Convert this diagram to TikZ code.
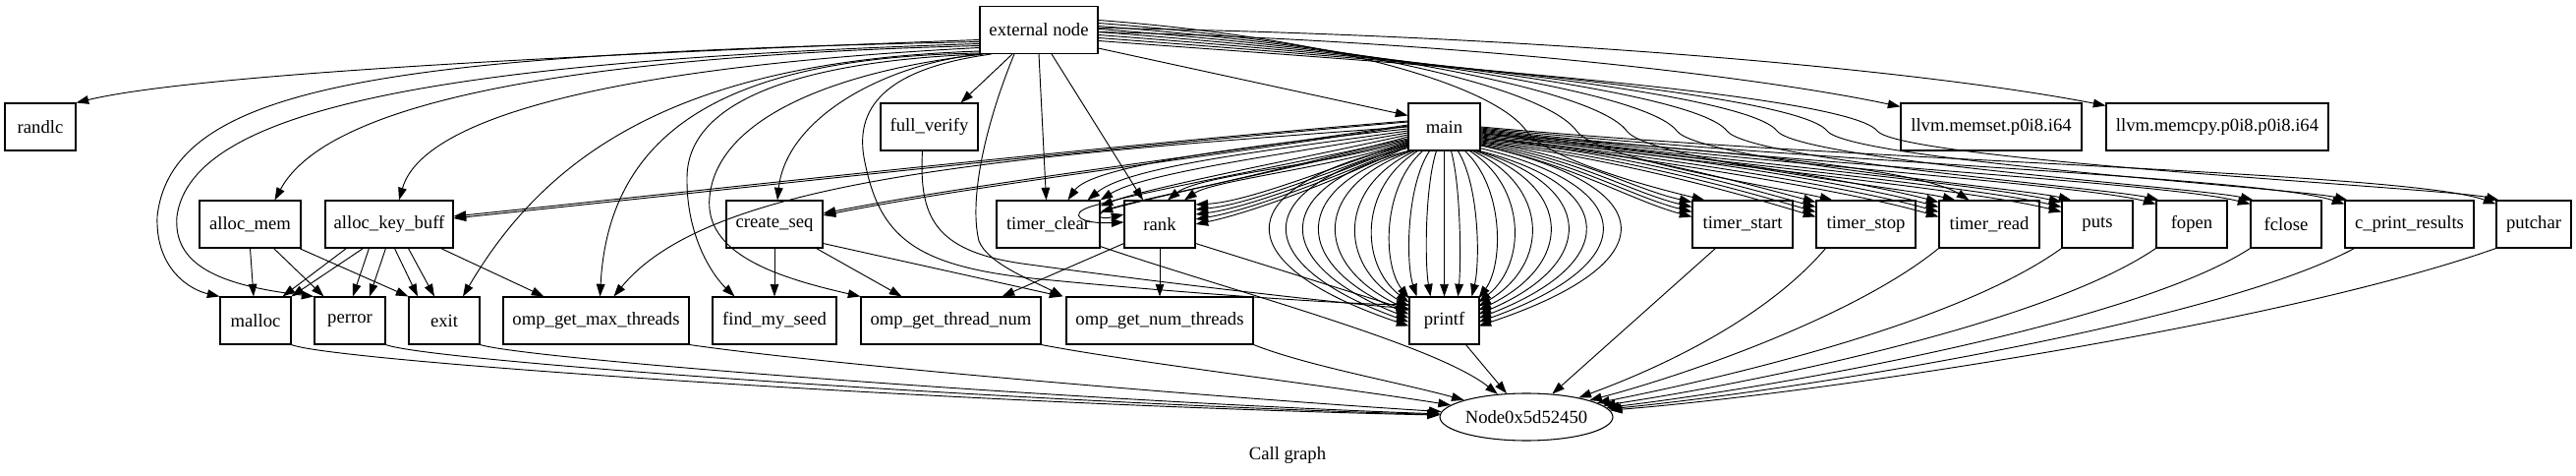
\documentclass[tikz,border=0pt]{standalone}
\usepackage{fontspec}
\setmainfont{Liberation Serif}
\usetikzlibrary{arrows.meta,calc,shapes.geometric}
\begin{document}
\begin{tikzpicture}[x=0.75pt,y=-0.75pt,
  box/.style={draw,line width=0.8pt,minimum height=36pt,inner sep=0pt,font=\fontsize{14}{16}\selectfont},
  bw/.style={minimum width=#1*0.75pt},
  edg/.style={line width=0.7pt,-{Triangle[length=9.5pt,width=6.5pt]}},
]
\useasboundingbox (0,0) rectangle (2621,484);
% nodes
\node[box,bw=120] (ext) at (1057,30.5) {external node};
\node[box,bw=72] (randlc) at (41,129) {randlc};
\node[box,bw=99] (fv) at (945.5,129) {full\_verify};
\node[box,bw=73] (main) at (1469.5,129) {main};
\node[box,bw=184] (memset) at (2026,129) {llvm.memset.p0i8.i64};
\node[box,bw=226] (memcpy) at (2256,129) {llvm.memcpy.p0i8.p0i8.i64};
\node[box,bw=103] (amem) at (254.5,228) {alloc\_mem};
\node[box,bw=130] (akb) at (396,228) {alloc\_key\_buff};
\node[box,bw=98] (cs) at (788,228) {create\_seq};
\node[box,bw=105] (tc) at (1066.5,228) {timer\_clear};
\node[box,bw=72] (rank) at (1180,228) {rank};
\node[box,bw=102] (ts) at (1773,228) {timer\_start};
\node[box,bw=101] (tstop) at (1898.5,228) {timer\_stop};
\node[box,bw=102] (tr) at (2024,228) {timer\_read};
\node[box,bw=72] (puts) at (2134,228) {puts};
\node[box,bw=72] (fopen) at (2230,228) {fopen};
\node[box,bw=72] (fclose) at (2326,228) {fclose};
\node[box,bw=131] (cpr) at (2451.5,228) {c\_print\_results};
\node[box,bw=76] (putchar) at (2578,228) {putchar};
\node[box,bw=72] (malloc) at (260,326) {malloc};
\node[box,bw=72] (perror) at (356,326) {perror};
\node[box,bw=72] (exit) at (452,326) {exit};
\node[box,bw=189] (ogmt) at (606.5,326) {omp\_get\_max\_threads};
\node[box,bw=126] (fms) at (788,326) {find\_my\_seed};
\node[box,bw=183] (ogtn) at (967.5,326) {omp\_get\_thread\_num};
\node[box,bw=190] (ognt) at (1180,326) {omp\_get\_num\_threads};
\node[box,bw=71] (printf) at (1469.5,326) {printf};
\node[draw,ellipse,line width=0.8pt,minimum width=126pt,minimum height=36pt,inner sep=0pt,font=\fontsize{14}{16}\selectfont] (nd) at (1553,424) {Node0x5d52450};
\node[font=\fontsize{14}{16}\selectfont] (cap) at (1310,463) {Call graph};

% external node -> left part
\draw[edg] ($(ext.west)+(0,10)$) .. controls (600,55) and (200,75) .. (randlc.north east);
\draw[edg] ($(ext.west)+(0,12)$) .. controls (400,55) and (175,85) .. (160,220) .. controls (158,275) and (195,295) .. (malloc.north west);
\draw[edg] ($(ext.west)+(0,14)$) .. controls (450,62) and (195,110) .. (180,220) .. controls (176,268) and (220,290) .. (perror.north west);
\draw[edg] ($(ext.west)+(0,16)$) .. controls (550,58) and (330,110) .. ($(amem.north)+(25,0)$);
\draw[edg] ($(ext.west)+(0,18)$) .. controls (620,68) and (430,120) .. ($(akb.north)+(10,0)$);
\draw[edg] ($(ext.south west)+(0,-3)$) .. controls (700,62) and (560,150) .. ($(exit.north)+(19,0)$);
\draw[edg] ($(ext.south west)+(0,-1)$) .. controls (760,58) and (620,120) .. ($(ogmt.north)+(4,0)$);
\draw[edg] ($(ext.south west)+(1,0)$) .. controls (820,62) and (700,100) .. (699,180) .. controls (698,240) and (725,280) .. ($(fms.north west)+(23,0)$);
\draw[edg] ($(ext.south west)+(4,0)$) .. controls (850,72) and (730,120) .. (722,200) .. controls (716,258) and (790,282) .. (ogtn.north west);
\draw[edg] ($(ext.south west)+(2,0)$) .. controls (900,65) and (800,120) .. ($(cs.north)+(3,0)$);
\draw[edg] ($(ext.south west)+(12,0)$) .. controls (900,70) and (868,110) .. (880,165) .. controls (895,240) and (930,270) .. (1050,283) .. controls (1200,298) and (1380,310) .. ($(printf.north west)+(0,8)$);
\draw[edg] ($(ext.south)+(-25,0)$) .. controls (1005,120) and (985,200) .. (996,245) .. controls (1005,268) and (1050,285) .. ($(ognt.north west)+(-3,0)$);
\draw[edg] ($(ext.south)+(-27,0)$) -- ($(fv.north east)+(-18,0)$);
\draw[edg] (ext.south) -- ($(tc.north)+(-2,0)$);
\draw[edg] ($(ext.south)+(13,0)$) -- ($(rank.north)+(-17,0)$);
\draw[edg] ($(ext.south east)+(0,-6)$) -- ($(main.north west)+(0,13)$);
\draw[edg] ($(ext.east)+(0,2)$) .. controls (1500,42) and (1800,80) .. ($(memset.north west)+(0,4)$);
\draw[edg] ($(ext.east)+(0,-2)$) .. controls (1550,35) and (1950,70) .. ($(memcpy.north west)+(0,3)$);
\foreach \t/\k/\dy/\dx in {ts/0/-10/13,tstop/1/-7/17,tr/2/-4/17,puts/3/-1/10,fopen/4/2/3,fclose/5/5/3,cpr/6/8/3,putchar/7/11/3}{
  \pgfmathsetmacro\xk{1553+51*\k}
  \draw[edg] ($(ext.east)+(0,\dy)$) .. controls (1350,{38+3*\k}) and ({\xk-35},{85+\k}) .. (\xk,133) .. controls +(22,30) and +(-50,-12) .. ($(\t.north west)+(\dx,0)$);
}

% alloc_mem, alloc_key_buff, create_seq, rank
\draw[edg] (amem.south) -- ($(malloc.north)+(-2,0)$);
\draw[edg] ($(amem.south)+(24,0)$) -- ($(perror.north west)+(10,0)$);
\draw[edg] ($(amem.south east)+(-2,0)$) -- (exit.north west);
\draw[edg] ($(akb.south west)+(22,0)$) -- ($(malloc.north east)+(-9,0)$);
\draw[edg] ($(akb.south west)+(39,0)$) -- (malloc.north east);
\draw[edg] ($(akb.south west)+(45,0)$) -- ($(perror.north)+(3,0)$);
\draw[edg] ($(akb.south west)+(62,0)$) -- ($(perror.north)+(20,0)$);
\draw[edg] ($(akb.south west)+(71,0)$) -- ($(exit.north)+(-27,0)$);
\draw[edg] ($(akb.south west)+(85,0)$) -- ($(exit.north)+(-10,0)$);
\draw[edg] ($(akb.south east)+(-13,0)$) -- ($(ogmt.north west)+(42,0)$);
\draw[edg] (cs.south) -- (fms.north);
\draw[edg] ($(cs.south east)+(-7,0)$) -- ($(ogtn.north)+(-50,0)$);
\draw[edg] ($(cs.south east)+(0,-5)$) -- ($(ognt.north west)+(-4,0)$);
\draw[edg] ($(fv.south)+(-7,0)$) .. controls (935,220) and (950,255) .. (1040,268) .. controls (1200,290) and (1380,310) .. ($(printf.north west)+(0,12)$);
\draw[edg] ($(rank.south east)+(0,-5)$) -- ($(printf.north west)+(0,14)$);
\draw[edg] ($(rank.south west)+(0,-5)$) -- ($(ogtn.north east)+(-40,0)$);
\draw[edg] (rank.south) -- (ognt.north);

% main -> left side
\draw[edg] ($(main.west)+(0,-6)$) .. controls (1100,150) and (750,190) .. ($(akb.east)+(0,-8)$);
\draw[edg] ($(main.west)+(0,-5)$) .. controls (1100,152) and (750,192) .. ($(akb.east)+(0,-6)$);
\draw[edg] ($(main.west)+(0,-2)$) .. controls (1250,155) and (1000,185) .. ($(cs.east)+(0,-11)$);
\draw[edg] ($(main.west)+(0,-1)$) .. controls (1250,157) and (1000,187) .. ($(cs.east)+(0,-9)$);
\draw[edg] (main.west) .. controls (1000,160) and (720,185) .. ($(ogmt.north)+(18,0)$);
\draw[edg] ($(main.west)+(0,2)$) .. controls (1250,150) and (1110,170) .. ($(tc.north)+(20,0)$);
\draw[edg] ($(main.west)+(0,4)$) .. controls (1300,152) and (1150,168) .. ($(tc.north)+(40,0)$);
\draw[edg] ($(main.west)+(0,6)$) .. controls (1320,155) and (1165,175) .. (tc.north east);
\draw[edg] ($(main.west)+(0,8)$) .. controls (1330,160) and (1170,190) .. ($(tc.north east)+(0,6)$);
\draw[edg] ($(main.west)+(0,10)$) .. controls (1340,165) and (1175,200) .. ($(tc.north east)+(0,12)$);
\draw[edg] ($(main.west)+(0,12)$) .. controls (1300,170) and (1160,195) .. (1110,210) .. controls (1085,218) and (1100,228) .. ($(rank.west)+(0,-2)$);
\draw[edg] ($(main.west)+(0,13)$) .. controls (1300,175) and (1170,200) .. (1130,212) .. controls (1112,218) and (1118,224) .. ($(rank.west)+(0,-10)$);
\draw[edg] ($(main.west)+(0,14)$) .. controls (1350,168) and (1220,178) .. ($(rank.north)+(8,0)$);
\draw[edg] ($(main.west)+(0,15)$) .. controls (1360,170) and (1235,183) .. ($(rank.north)+(25,0)$);
\foreach \k in {0,...,4}{
  \draw[edg] ($(main.west)+(0,{16+\k})$) .. controls (1350,{172+4*\k}) and (1270,{205+3*\k}) .. ($(rank.east)+(0,{-20+5*\k})$);
}

% main -> printf fan
\draw[edg] (main.south) -- (printf.north);
\foreach \sx/\sy/\cx/\ex/\ey in {
  29/0/1449.7/22/0, 44/0/1486.5/50/0, 22/0/1430.5/8/0, 51/0/1505.7/64/0,
  15/0/1406.3/0/2, 58/0/1530/71/2,
  10/0/1383/0/6, 7/0/1361/0/10, 4/0/1334.8/0/14, 2/0/1312.5/0/18, 0/0/1291.5/0/22, 0/-3/1268.8/0/26, 0/-6/1246.1/0/30,
  63/0/1553.2/71/6, 66/0/1576.7/71/10, 69/0/1601.5/71/14, 71/0/1625.2/71/18, 73/0/1648.8/71/22, 73/-3/1671.5/71/26, 73/-6/1695.5/71/30}{
  \draw[edg] ($(main.south west)+(\sx,\sy)$) .. controls (\cx,190) and (\cx,268) .. ($(printf.north west)+(\ex,\ey)$);
}

% main -> right side
\draw[edg] (main.east) .. controls (1900,165) and (2450,175) .. ($(putchar.north west)+(0,4)$);
\draw[edg] ($(main.east)+(0,1)$) .. controls (1850,165) and (2300,180) .. ($(cpr.north west)+(0,4)$);
\draw[edg] ($(main.east)+(0,2)$) .. controls (1800,165) and (2200,185) .. ($(fclose.north west)+(0,4)$);
\draw[edg] ($(main.east)+(0,3)$) .. controls (1780,165) and (2120,188) .. ($(fopen.north west)+(0,4)$);
\foreach \k in {0,1,2}{
  \draw[edg] ($(main.east)+(0,{4+\k})$) .. controls (1720,{160+3*\k}) and (2000,{185+3*\k}) .. ($(puts.north west)+(0,{2+5*\k})$);
}
\draw[edg] ($(main.east)+(0,7)$) .. controls (1720,150) and (1950,170) .. ($(tr.north west)+(31,0)$);
\foreach \k in {0,...,3}{
  \draw[edg] ($(main.east)+(0,{8+\k})$) .. controls (1700,{152+4*\k}) and (1890,{184+4*\k}) .. ($(tr.north west)+(0,{2+5*\k})$);
  \draw[edg] ($(main.east)+(0,{12+\k})$) .. controls (1650,{150+4*\k}) and (1780,{188+4*\k}) .. ($(tstop.north west)+(0,{2+5*\k})$);
  \draw[edg] ($(main.east)+(0,{16+\k})$) .. controls (1600,{155+4*\k}) and (1660,{192+4*\k}) .. ($(ts.north west)+(0,{2+5*\k})$);
}

% -> Node0x5d52450
\draw[edg] (malloc.south east) .. controls (340,368) and (1000,412) .. (nd);
\draw[edg] (perror.south east) .. controls (440,368) and (1050,410) .. (nd);
\draw[edg] (exit.south east) .. controls (540,366) and (1100,408) .. (nd);
\draw[edg] (ogmt.south east) .. controls (850,372) and (1250,405) .. (nd);
\draw[edg] (ogtn.south east) .. controls (1150,368) and (1350,392) .. (nd);
\draw[edg] (ognt.south east) .. controls (1330,372) and (1420,388) .. (nd);
\draw[edg] ($(tc.south east)+(0,-2)$) .. controls (1250,295) and (1460,350) .. (nd);
\draw[edg] ($(printf.south)+(22,0)$) -- (nd);
\draw[edg] ($(ts.south west)+(24,0)$) -- (nd);
\draw[edg] ($(tstop.south west)+(10,0)$) .. controls (1800,320) and (1700,370) .. (nd);
\draw[edg] (tr.south west) .. controls (1890,320) and (1720,380) .. (nd);
\draw[edg] (puts.south west) .. controls (1990,330) and (1750,385) .. (nd);
\draw[edg] (fopen.south west) .. controls (2080,330) and (1780,390) .. (nd);
\draw[edg] (fclose.south west) .. controls (2170,330) and (1800,395) .. (nd);
\draw[edg] ($(cpr.south west)+(10,0)$) .. controls (2250,330) and (1820,398) .. (nd);
\draw[edg] (putchar.south west) .. controls (2320,330) and (1850,400) .. (nd);
\end{tikzpicture}
\end{document}
